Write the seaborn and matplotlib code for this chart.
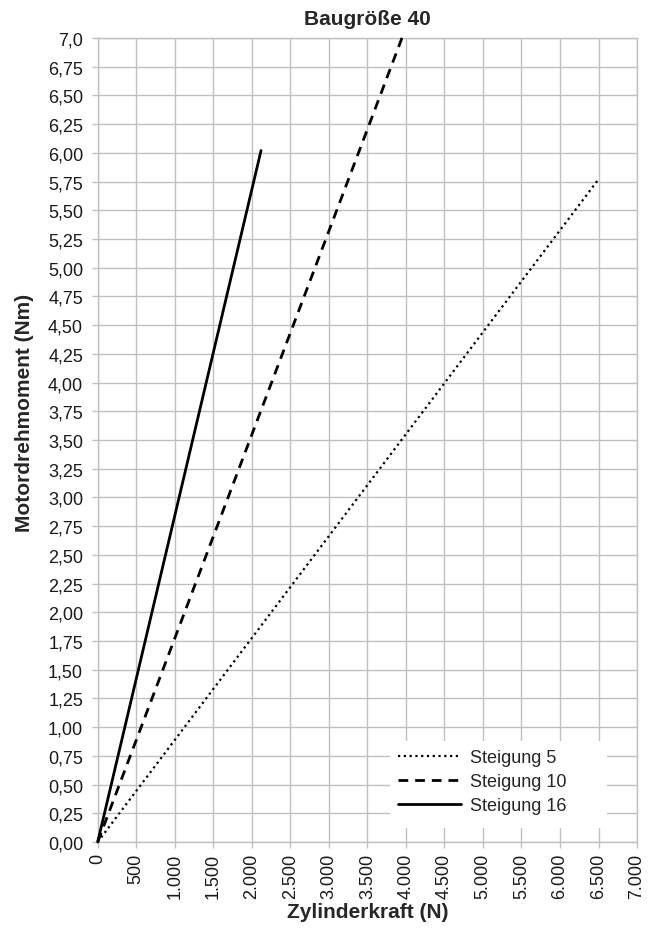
import numpy as np
import pandas as pd
import matplotlib
matplotlib.use("Agg")
import matplotlib.pyplot as plt
import matplotlib.patches as mpatches
import seaborn as sns

# ─── Data ────────────────────────────────────────────────────────────────────
SERIES = ["Steigung 5", "Steigung 10", "Steigung 16"]
FORCE_5 = [0, 6500]
TORQUE_5 = [0.0, 5.77]
FORCE_10 = [0, 3960]
TORQUE_10 = [0.0, 7.02]
FORCE_16 = [0, 2120]
TORQUE_16 = [0.0, 6.02]

X_TICKS = list(range(0, 7001, 500))
Y_TICKS = [i * 0.25 for i in range(29)]

df = pd.concat([
    pd.DataFrame({"kraft": FORCE_5, "moment": TORQUE_5, "serie": SERIES[0]}),
    pd.DataFrame({"kraft": FORCE_10, "moment": TORQUE_10, "serie": SERIES[1]}),
    pd.DataFrame({"kraft": FORCE_16, "moment": TORQUE_16, "serie": SERIES[2]}),
])

# ─── Styling ─────────────────────────────────────────────────────────────────
sns.set_theme(style="white")
plt.rcParams["font.family"] = ["Liberation Sans", "DejaVu Sans"]

fig = plt.figure(figsize=(6.57, 9.29), dpi=100)
ax = fig.add_axes([0.1487, 0.0926, 0.8209, 0.8654])

styles = {
    "Steigung 5": dict(dashes=(1, 1.6), lw=1.6),
    "Steigung 10": dict(dashes=(3.5, 2.5), lw=2.0),
    "Steigung 16": dict(dashes=(), lw=2.0),
}
for name in SERIES:
    sub = df[df["serie"] == name]
    st = styles[name]
    sns.lineplot(data=sub, x="kraft", y="moment", ax=ax, color="black",
                 linewidth=st["lw"], label=name, clip_on=False,
                 dashes=False, sort=False, zorder=3)
    line = ax.get_lines()[-1]
    if st["dashes"]:
        line.set_dashes(st["dashes"])

ax.set_xlim(0, 7000)
ax.set_ylim(0, 7.0)
ax.set_xticks(X_TICKS)
ax.set_yticks(Y_TICKS)
ax.set_xticklabels([f"{v:,}".replace(",", ".") for v in X_TICKS],
                   rotation=90, fontsize=13)
ylabels = [f"{v:.2f}".replace(".", ",") for v in Y_TICKS]
ylabels[-1] = "7,0"
ax.set_yticklabels(ylabels, fontsize=13)

ax.grid(True, color="#c0c0c0", linewidth=1.0)
ax.set_axisbelow(True)
for sp in ax.spines.values():
    sp.set_color("#c0c0c0")
    sp.set_linewidth(1.0)
ax.tick_params(axis="both", which="major", length=4.5, width=1.0,
               color="#c0c0c0", direction="out",
               left=True, bottom=True, labelcolor="#1a1a1a")
ax.tick_params(axis="y", pad=6)
ax.tick_params(axis="x", pad=3)

ax.set_xlabel("Zylinderkraft (N)", fontsize=15, fontweight="bold", labelpad=3)
ax.set_ylabel("Motordrehmoment (Nm)", fontsize=15, fontweight="bold")
ax.yaxis.label.set_verticalalignment("center")
ax.yaxis.set_label_coords(-0.135, 0.535)
ax.set_title("Baugröße 40", fontsize=15, fontweight="bold", pad=10)

# white legend area covering the grid
ax.add_patch(mpatches.Rectangle((0.542, 0.0174), 0.402, 0.1082,
                                transform=ax.transAxes, facecolor="white",
                                edgecolor="none", zorder=1))
leg = ax.legend(loc="upper left", bbox_to_anchor=(0.542, 0.1256),
                frameon=False, fontsize=13, handlelength=3.5,
                handletextpad=0.5, labelspacing=0.38, borderpad=0.45,
                borderaxespad=0)

fig.savefig("out.png", dpi=100)
plt.close(fig)
